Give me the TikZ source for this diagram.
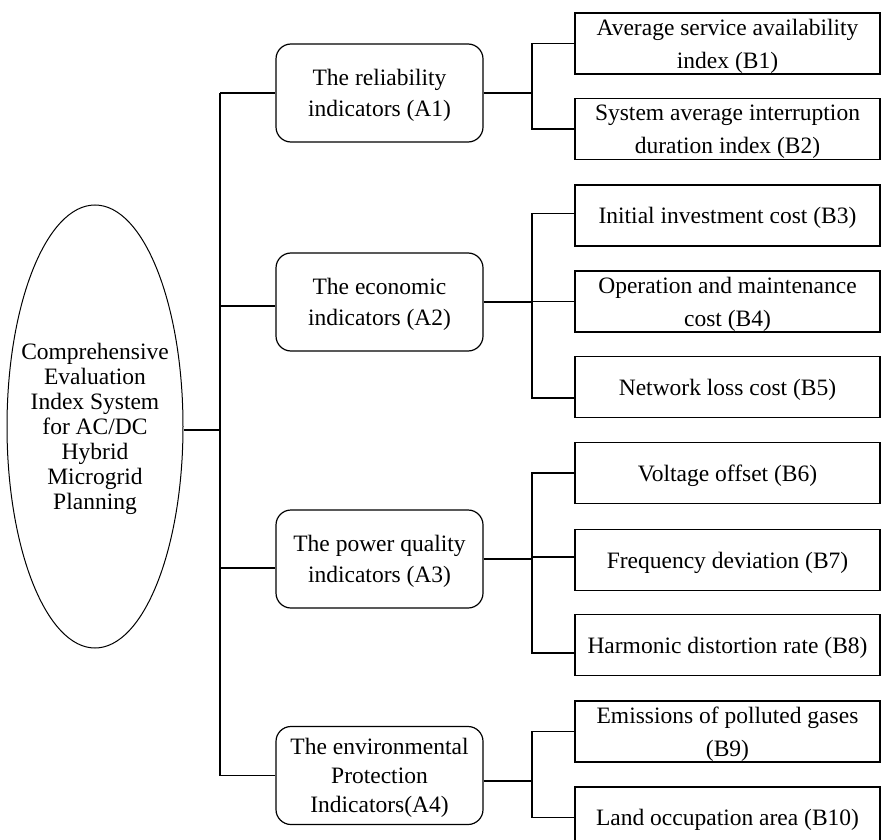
\documentclass[tikz,border=0pt]{standalone}
\usepackage{fontspec}
\setmainfont{Liberation Serif}
\usetikzlibrary{shapes.geometric}
\tikzset{
  rootnode/.style={draw, ellipse, line width=1pt, minimum width=176pt, minimum height=443pt, inner sep=0pt},
  roottext/.style={align=center, inner sep=0pt, text depth=0pt, font=\fontsize{23.5}{25}\selectfont},
  abox/.style={draw, rounded corners=15pt, minimum width=207pt, minimum height=98pt, align=center, inner sep=0pt, text depth=0pt, font=\fontsize{23.5}{31}\selectfont},
  bbox/.style={draw, minimum width=305pt, minimum height=61pt, align=center, inner sep=0pt, text depth=0pt, font=\fontsize{23.5}{33}\selectfont},
  conn/.style={draw, line width=1.3pt}
}
\begin{document}
\begin{tikzpicture}[x=1pt, y=-1pt, line width=1.2pt]
\useasboundingbox (0,0) rectangle (881,840);
\clip (0,0) rectangle (881,840);

\node[rootnode] (root) at (95,426.5) {};
\node[roottext] (roott) at (95,426) {Comprehensive\\Evaluation\\Index System\\for AC/DC\\Hybrid\\Microgrid\\Planning};

\node[abox] (A1) at (379.5,93) {The reliability\\indicators (A1)};
\node[abox] (A2) at (379.5,302) {The economic\\indicators (A2)};
\node[abox] (A3) at (379.5,559) {The power quality\\indicators (A3)};
\node[abox, font=\fontsize{23.5}{29}\selectfont] (A4) at (379.5,775.5) {The environmental\\Protection\\Indicators(A4)};

\node[bbox] (B1) at (727.5,43.5) {Average service availability\\index (B1)};
\node[bbox] (B2) at (727.5,129) {System average interruption\\duration index (B2)};
\node[bbox] (B3) at (727.5,215.5) {Initial investment cost (B3)};
\node[bbox] (B4) at (727.5,301.5) {Operation and maintenance\\cost (B4)};
\node[bbox] (B5) at (727.5,387) {Network loss cost (B5)};
\node[bbox] (B6) at (727.5,473) {Voltage offset (B6)};
\node[bbox] (B7) at (727.5,560) {Frequency deviation (B7)};
\node[bbox] (B8) at (727.5,645) {Harmonic distortion rate (B8)};
\node[bbox] (B9) at (727.5,731.5) {Emissions of polluted gases\\(B9)};
\node[bbox] (B10) at (727.5,817.5) {Land occupation area (B10)};

\coordinate (tr) at (220,0);
\coordinate (br) at (532,0);

% attachment points
\coordinate (rootout) at ([yshift=-3.5pt]root.east);
\coordinate (a2in) at ([yshift=-4pt]A2.west);
\coordinate (a3in) at ([yshift=-9pt]A3.west);
\coordinate (a4out) at ([yshift=-5.5pt]A4.east);
\coordinate (b3in) at ([yshift=2pt]B3.west);
\coordinate (b5in) at ([yshift=-11pt]B5.west);
\coordinate (b7in) at ([yshift=3pt]B7.west);
\coordinate (b8in) at ([yshift=-8pt]B8.west);

% root to trunk
\draw[conn] (rootout) -- (rootout -| tr);
\draw[conn] (A1.west -| tr) -- (A4.west -| tr);
\draw[conn] (A1.west -| tr) -- (A1.west);
\draw[conn] (a2in -| tr) -- (a2in);
\draw[conn] (a3in -| tr) -- (a3in);
\draw[conn] (A4.west -| tr) -- (A4.west);

% A1 branch
\draw[conn] (A1.east) -- (A1.east -| br);
\draw[conn] (B1.west) -| (br |- B2.west) -- (B2.west);

% A2 branch
\draw[conn] (A2.east) -- (A2.east -| br);
\draw[conn] (b3in) -| (br |- b5in) -- (b5in);
\draw[conn] (B4.west) -- (B4.west -| br);

% A3 branch
\draw[conn] (A3.east) -- (A3.east -| br);
\draw[conn] (B6.west) -| (br |- b8in) -- (b8in);
\draw[conn] (b7in) -- (b7in -| br);

% A4 branch
\draw[conn] (a4out) -- (a4out -| br);
\draw[conn] (B9.west) -| (br |- B10.west) -- (B10.west);
\end{tikzpicture}
\end{document}
